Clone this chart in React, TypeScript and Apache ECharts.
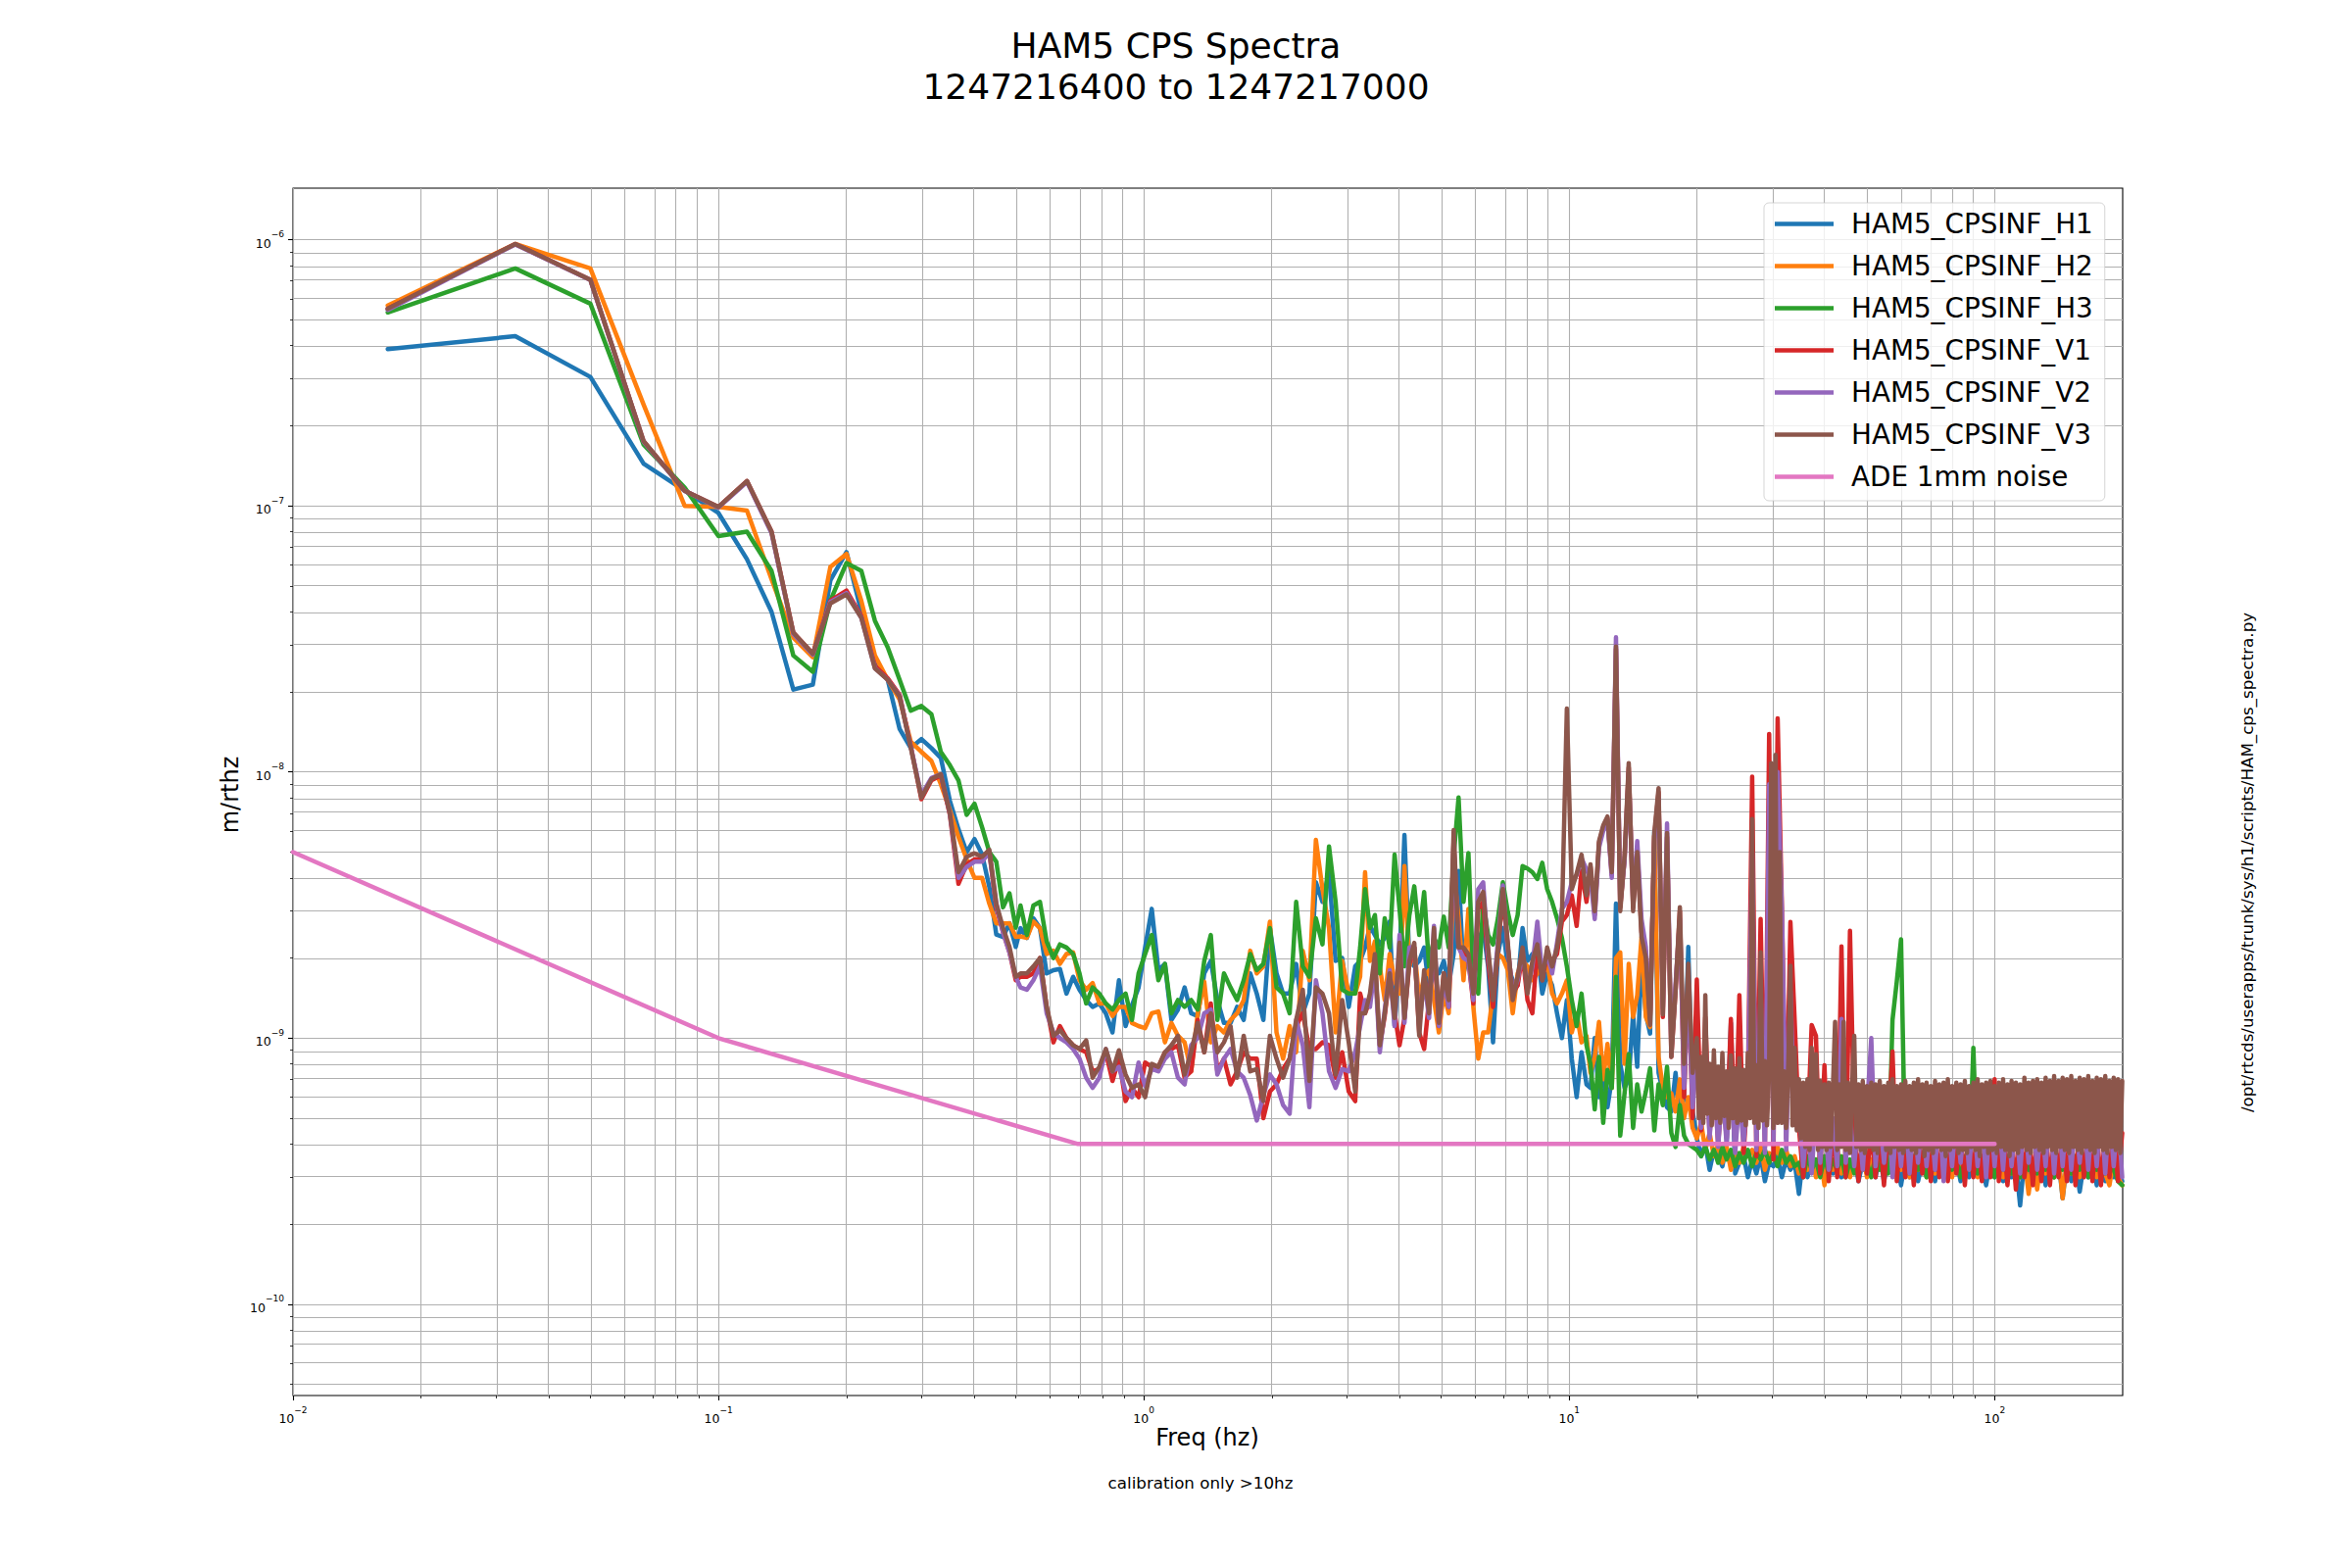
import React, { useEffect, useRef } from 'react';
import * as echarts from 'echarts';

// values are in units of 1e-10 m/rtHz
const UNIT = 1e-10;

const SERIES_NAMES = ['HAM5_CPSINF_H1', 'HAM5_CPSINF_H2', 'HAM5_CPSINF_H3', 'HAM5_CPSINF_V1', 'HAM5_CPSINF_V2', 'HAM5_CPSINF_V3', 'ADE 1mm noise'];
const COLORS = ['#1f77b4', '#ff7f0e', '#2ca02c', '#d62728', '#9467bd', '#8c564b', '#e377c2'];

// frequency grids (Hz)
const F_LF = [0.0167, 0.0333, 0.05, 0.0667, 0.0833, 0.1, 0.1167, 0.1333, 0.15, 0.1667, 0.1833, 0.2, 0.2167, 0.2333, 0.25, 0.2667, 0.2833, 0.3, 0.3167, 0.3333, 0.35, 0.3667, 0.3833, 0.4, 0.4167, 0.4333, 0.45, 0.4667, 0.4833, 0.5];
const F_MF1 = [0.513, 0.531, 0.550, 0.570, 0.591, 0.613, 0.635, 0.658, 0.682, 0.706, 0.732, 0.758, 0.786, 0.814, 0.844, 0.874, 0.906, 0.938, 0.972, 1.007, 1.044, 1.082, 1.121, 1.161, 1.203, 1.247, 1.292, 1.339, 1.387, 1.437, 1.489, 1.543, 1.599, 1.657, 1.717, 1.779, 1.843, 1.910, 1.979, 2.051, 2.125, 2.202, 2.281, 2.364, 2.450, 2.538, 2.630, 2.725, 2.824, 2.926, 3.032];
const F_MF2 = [3.140, 3.225, 3.312, 3.401, 3.493, 3.587, 3.684, 3.784, 3.886, 3.991, 4.099, 4.209, 4.323, 4.440, 4.560, 4.683, 4.809, 4.939, 5.072, 5.209, 5.350, 5.494, 5.643, 5.795, 5.951, 6.112, 6.277, 6.447, 6.621, 6.800, 6.983, 7.172, 7.365, 7.564, 7.768, 7.978, 8.193, 8.415, 8.642, 8.875, 9.115, 9.361, 9.614, 9.873, 10.14, 10.41, 10.69, 10.98];
const F_HF = [11.22, 11.48, 11.75, 12.02, 12.30, 12.59, 12.88, 13.18, 13.49, 13.80,
  14.13, 14.45, 14.79, 15.14, 15.49, 15.85, 16.22, 16.60, 16.98, 17.38,
  17.78, 18.20, 18.62, 19.05, 19.50, 19.95, 20.42, 20.89, 21.38, 21.88,
  22.39, 22.91, 23.44, 23.99, 24.55, 25.12, 25.70, 26.30, 26.92, 27.54,
  28.18, 28.84, 29.51, 30.20, 30.90, 31.62, 32.36, 33.11, 33.88, 34.67,
  35.48, 36.31, 37.15, 38.02, 38.90, 39.81, 40.74, 41.69, 42.66, 43.65,
  44.67, 45.71, 46.77, 47.86, 48.98, 50.12, 51.29, 52.48, 53.70, 54.95,
  56.23, 57.54, 58.88, 60.26, 61.66, 63.10, 64.57, 66.07, 67.61, 69.18,
  70.79, 72.44, 74.13, 75.86, 77.62, 79.43, 81.28, 83.18, 85.11, 87.10,
  89.13, 91.20, 93.33, 95.50, 97.72, 100.0, 102.3, 104.7, 107.2, 109.6,
  112.2, 114.8, 117.5, 120.2, 123.0, 125.9, 128.8, 131.8, 134.9, 138.0,
  141.3, 144.5, 147.9, 151.4, 154.9, 158.5, 162.2, 166.0, 169.8, 173.8,
  177.8, 182.0, 186.2, 190.5, 195.0, 199.5];
// finer grid used for the dense V3 band (20-200 Hz)
const F_FINE = [19.95, 20.18, 20.42, 20.66, 20.89, 21.13, 21.38, 21.63, 21.88, 22.13,
  22.39, 22.65, 22.91, 23.18, 23.44, 23.71, 23.99, 24.27, 24.55, 24.83,
  25.12, 25.41, 25.70, 26.00, 26.30, 26.61, 26.92, 27.23, 27.54, 27.86,
  28.18, 28.51, 28.84, 29.17, 29.51, 29.85, 30.20, 30.55, 30.90, 31.26,
  31.62, 31.99, 32.36, 32.74, 33.11, 33.49, 33.88, 34.27, 34.67, 35.07,
  35.48, 35.89, 36.31, 36.73, 37.15, 37.58, 38.02, 38.46, 38.90, 39.35,
  39.81, 40.27, 40.74, 41.21, 41.69, 42.17, 42.66, 43.15, 43.65, 44.16,
  44.67, 45.19, 45.71, 46.24, 46.77, 47.31, 47.86, 48.42, 48.98, 49.55,
  50.12, 50.70, 51.29, 51.89, 52.48, 53.09, 53.70, 54.32, 54.95, 55.59,
  56.23, 56.88, 57.54, 58.21, 58.88, 59.56, 60.26, 60.96, 61.66, 62.38,
  63.10, 63.83, 64.57, 65.32, 66.07, 66.84, 67.61, 68.39, 69.18, 69.98,
  70.79, 71.61, 72.44, 73.28, 74.13, 74.99, 75.86, 76.74, 77.62, 78.52,
  79.43, 80.35, 81.28, 82.22, 83.18, 84.14, 85.11, 86.10, 87.10, 88.11,
  89.13, 90.16, 91.20, 92.26, 93.33, 94.41, 95.50, 96.61, 97.72, 98.85,
  100.0, 101.2, 102.3, 103.5, 104.7, 105.9, 107.2, 108.4, 109.6, 110.9,
  112.2, 113.5, 114.8, 116.1, 117.5, 118.9, 120.2, 121.6, 123.0, 124.4,
  125.9, 127.4, 128.8, 130.3, 131.8, 133.3, 134.9, 136.5, 138.0, 139.6,
  141.3, 142.9, 144.5, 146.2, 147.9, 149.6, 151.4, 153.1, 154.9, 156.7,
  158.5, 160.3, 162.2, 164.1, 166.0, 167.9, 169.8, 171.8, 173.8, 175.8,
  177.8, 179.9, 182.0, 184.1, 186.2, 188.4, 190.5, 192.7, 195.0, 197.3,
  199.5];

// H1
const H1_LF = [3880, 4340, 3050, 1440, 1140, 940, 630, 400, 204, 213, 525, 670, 400, 263, 222, 145, 123, 133, 123, 113, 78, 61, 50, 56, 49, 37, 24.5, 24, 27, 22];
const H1_MF1 = [25.9, 23.8, 28.2, 25.9, 17.5, 18.0, 18.2, 14.7, 17.0, 15.2, 13.9, 13.1, 13.5, 12.4, 10.5, 16.5, 11.1, 13.3, 15.5, 21.9, 30.6, 18.0, 19.0, 11.7, 12.8, 15.5, 12.4, 12.1, 17.5, 19.5, 13.9, 11.4, 11.4, 13.1, 11.7, 17.5, 14.7, 11.7, 25.9, 17.5, 14.7, 14.7, 19.0, 12.4, 14.7, 38.5, 32.5, 42.0, 19.5, 20.0, 13.1];
const H1_MF2 = [18.6, 19.5, 21.9, 26.4, 24.4, 22.5, 23.8, 27.4, 11.1, 19.5, 58.0, 19.5, 18.6, 19.5, 21.9, 15.2, 17.5, 17.5, 19.5, 15.8, 20.7, 42.5, 17.5, 20.7, 14.7, 23.1, 25.9, 18.6, 9.64, 20.7, 25.9, 18.6, 16.5, 15.8, 25.9, 19.5, 20.7, 21.3, 14.7, 17.5, 15.8, 12.4, 10.0, 13.9, 8.37, 6.0, 8.85, 6.7];
const H1_HF = [6.5, 10.0, 6.0, 7.5, 5.5, 7.0, 32, 8.0, 6.5, 7.0,
  12.3, 7.8, 20, 12.3, 10.4, 60, 7.4, 6.3, 5.5, 5.3,
  7.4, 5.0, 6.0, 22, 5.3, 4.2, 3.6, 4.0, 3.2, 3.8,
  3.6, 3.3, 4.0, 11.4, 3.1, 3.4, 3.6, 3.0, 3.5, 3.1,
  3.6, 2.9, 3.4, 3.3, 3.6, 3.0, 3.5, 3.2, 3.4, 2.6,
  3.6, 3.0, 3.5, 3.1, 3.6, 2.9, 3.4, 3.1, 3.6, 3.0,
  3.4, 3.2, 3.6, 2.9, 3.4, 3.1, 3.5, 3.0, 3.6, 2.9,
  3.5, 3.1, 3.4, 2.8, 3.5, 3.0, 3.6, 2.9, 3.4, 3.1,
  3.5, 2.9, 3.6, 3.0, 3.4, 3.1, 3.5, 2.9, 3.4, 3.0,
  3.6, 3.1, 3.4, 2.8, 3.5, 3.0, 3.4, 2.9, 3.6, 3.0,
  3.4, 2.35, 3.5, 2.9, 3.4, 3.0, 3.5, 2.8, 3.4, 3.0,
  3.5, 2.5, 3.4, 2.9, 3.5, 2.65, 3.4, 3.0, 3.5, 2.8,
  3.4, 2.9, 3.5, 3.0, 3.3, 2.9];

// H2
const H2_LF = [5660, 9640, 7800, 2400, 1000, 990, 960, 530, 320, 270, 590, 660, 440, 274, 222, 187, 130, 119, 110, 90, 72, 57, 47, 40, 40, 32, 27, 27, 27, 24];
const H2_MF1 = [24.1, 23.8, 27.4, 25.9, 20.7, 21.3, 19.0, 20.7, 21.0, 16.5, 15.2, 16.1, 13.5, 13.5, 12.1, 13.1, 13.1, 11.4, 11.1, 10.9, 12.4, 12.6, 9.64, 11.4, 10.2, 9.64, 7.5, 12.4, 16.3, 9.64, 11.1, 10.5, 11.7, 12.4, 13.9, 21.3, 17.5, 18.6, 27.4, 10.5, 8.37, 11.1, 8.85, 21.3, 16.5, 55.6, 36.3, 25.9, 10.5, 19.5, 14.7];
const H2_MF2 = [14.7, 17.0, 42.0, 19.5, 23.1, 18.6, 13.9, 20.7, 16.5, 14.7, 44.3, 18.6, 21.9, 13.9, 17.0, 18.0, 13.9, 10.5, 14.7, 12.4, 42.5, 28.2, 16.5, 30.6, 13.1, 8.37, 10.5, 10.5, 14.7, 20.7, 20.0, 18.0, 12.4, 17.5, 19.5, 18.6, 16.5, 17.5, 18.6, 19.5, 14.7, 13.5, 14.7, 16.5, 10.5, 12.4, 9.64, 10.2];
const H2_HF = [7.4, 8.5, 11.5, 7.0, 9.5, 6.5, 20, 21, 8.0, 19,
  12.0, 14.5, 24, 12.0, 11.0, 58, 8.5, 6.5, 6.0, 6.2,
  5.3, 7.0, 5.0, 6.0, 4.6, 4.2, 4.8, 3.8, 4.4, 3.6,
  4.0, 3.4, 3.9, 3.2, 3.8, 3.4, 3.9, 3.6, 3.8, 3.4,
  3.9, 3.2, 3.7, 3.5, 3.9, 3.4, 3.8, 3.3, 3.6, 3.1,
  3.8, 3.2, 3.6, 3.0, 3.7, 2.8, 3.6, 3.2, 3.8, 3.1,
  3.5, 3.0, 3.6, 3.2, 3.7, 3.0, 3.5, 3.2, 3.8, 3.0,
  3.6, 3.1, 3.5, 3.2, 3.7, 3.0, 3.6, 3.2, 3.5, 3.0,
  3.7, 3.1, 3.6, 3.2, 3.5, 3.0, 3.7, 3.1, 3.6, 3.2,
  3.5, 3.0, 3.6, 3.1, 3.7, 3.2, 3.5, 3.0, 3.6, 3.1,
  3.5, 3.0, 3.6, 2.6, 3.5, 2.7, 3.6, 3.1, 3.5, 3.0,
  3.6, 2.5, 3.5, 3.1, 3.6, 3.0, 3.5, 3.1, 3.6, 3.0,
  3.5, 3.1, 2.8, 3.5, 3.0, 2.8];

// H3
const H3_LF = [5330, 7800, 5750, 1700, 1170, 770, 800, 570, 274, 238, 440, 610, 570, 370, 294, 222, 170, 177, 165, 119, 106, 93, 69, 76, 62, 50, 46, 31, 35, 26];
const H3_MF1 = [31.5, 24.4, 31.5, 32.5, 23.1, 20.0, 22.5, 21.9, 20.7, 17.5, 13.5, 15.5, 14.7, 13.5, 12.8, 13.9, 14.7, 11.7, 17.5, 20.7, 24.4, 16.5, 19.0, 12.4, 13.9, 13.1, 13.9, 12.8, 19.5, 24.4, 11.7, 17.5, 15.5, 13.9, 16.5, 20.7, 18.0, 19.0, 25.9, 15.5, 14.7, 12.4, 32.5, 18.6, 17.0, 28.2, 22.5, 52.5, 32.5, 15.2, 14.7];
const H3_MF2 = [14.7, 21.9, 36.3, 25.9, 29.0, 17.5, 28.2, 21.9, 48.9, 30.6, 18.6, 28.9, 37.2, 24.4, 35.4, 18.6, 23.8, 21.9, 28.6, 21.9, 48.0, 80.2, 32.5, 49.6, 17.0, 14.7, 32.5, 24.4, 22.5, 28.2, 38.5, 29.8, 24.4, 29.0, 44.3, 43.4, 42.0, 39.6, 45.6, 36.3, 32.5, 28.2, 23.8, 18.6, 13.9, 11.1, 14.7, 9.4];
const H3_HF = [8.0, 5.4, 8.5, 4.8, 7.6, 6.5, 17, 4.3, 6.2, 8.7,
  4.6, 6.7, 5.3, 6.3, 7.7, 4.5, 6.7, 5.6, 7.8, 4.4,
  3.9, 5.6, 4.3, 4.0, 3.9, 3.8, 3.6, 3.9, 3.5, 3.8,
  3.4, 3.9, 3.5, 3.8, 3.3, 3.7, 3.4, 3.8, 3.3, 3.7,
  3.5, 3.8, 3.4, 3.7, 3.3, 3.8, 3.4, 3.6, 3.3, 3.4,
  3.0, 3.6, 3.2, 3.5, 3.0, 3.6, 3.1, 3.5, 3.2, 3.6,
  3.0, 3.5, 3.1, 3.6, 3.2, 3.4, 3.0, 3.6, 3.2, 3.5,
  3.1, 11.7, 16.3, 23.5, 3.4, 3.1, 3.6, 3.2, 3.5, 3.0,
  3.6, 3.2, 3.4, 3.1, 3.6, 3.2, 3.5, 3.0, 3.6, 3.2,
  9.2, 3.1, 3.5, 3.2, 3.6, 3.0, 3.5, 3.2, 3.6, 3.1,
  3.4, 3.0, 3.6, 3.2, 3.5, 3.1, 3.6, 3.2, 3.4, 3.0,
  3.6, 3.2, 3.5, 3.1, 3.6, 3.2, 3.5, 3.0, 3.6, 3.2,
  3.4, 3.1, 3.5, 3.2, 2.9, 2.8];

// V1
const V1_LF = [5500, 9640, 7070, 1750, 1140, 990, 1240, 800, 334, 278, 440, 480, 385, 250, 225, 195, 125, 79, 93, 97, 69, 38, 45, 47, 47, 50, 31, 25, 21, 16.5];
const V1_MF1 = [17.0, 17.0, 17.5, 20.0, 13.1, 9.64, 11.1, 10.0, 9.4, 9.1, 8.85, 7.5, 7.65, 8.85, 6.9, 8.37, 5.8, 6.5, 6.0, 8.1, 7.8, 7.8, 8.85, 9.1, 9.4, 7.1, 7.5, 11.7, 8.85, 13.5, 7.5, 8.37, 6.7, 7.5, 8.85, 8.37, 8.37, 5.0, 6.3, 6.7, 7.65, 8.37, 11.1, 12.4, 9.1, 9.1, 9.64, 9.4, 7.1, 8.85, 6.3];
const V1_MF2 = [5.8, 14.7, 12.4, 13.9, 19.5, 9.4, 12.1, 17.5, 12.4, 9.4, 11.9, 19.0, 21.9, 10.5, 9.1, 13.9, 22.8, 11.1, 17.5, 13.1, 55.6, 21.9, 21.3, 19.5, 13.5, 30.6, 32.5, 19.5, 13.1, 21.9, 34.4, 21.9, 14.7, 15.8, 20.7, 13.9, 12.4, 21.9, 16.5, 20.7, 19.5, 20.7, 27.4, 29.0, 34.4, 26.4, 42.5, 32.5];
const V1_HF = [44, 29, 54, 62, 67, 41, 290, 31, 47, 104,
  31, 52, 25, 21, 12, 57, 84, 12, 57, 8.5,
  15, 30, 6.0, 17, 5.0, 16.6, 4.5, 12, 4.3, 7.5,
  4.0, 6.5, 4.2, 11.8, 3.8, 14.5, 3.7, 6.5, 96, 3.6,
  28, 3.9, 139, 3.5, 159, 31, 4.2, 27.3, 11.7, 4.6,
  3.0, 4.4, 11.2, 10.2, 3.1, 7.9, 2.9, 4.5, 3.0, 22.1,
  3.0, 25.3, 4.6, 2.9, 4.4, 3.1, 4.5, 3.0, 4.3, 2.8,
  4.6, 8.9, 2.9, 4.4, 3.0, 4.5, 2.8, 4.6, 3.1, 4.4,
  2.9, 4.5, 3.0, 4.3, 2.9, 4.6, 3.1, 4.4, 2.8, 4.5,
  3.0, 4.4, 2.9, 4.6, 3.0, 7.0, 2.9, 4.5, 2.8, 4.4,
  2.7, 4.6, 3.0, 4.4, 2.8, 4.5, 2.9, 4.6, 2.8, 4.3,
  3.0, 4.5, 2.9, 4.4, 2.8, 4.6, 3.0, 4.4, 2.9, 4.5,
  2.8, 4.4, 3.0, 4.5, 2.9, 4.4];

// V2
const V2_LF = [5450, 9600, 7050, 1740, 1140, 985, 1230, 790, 330, 276, 435, 470, 380, 246, 222, 193, 124, 82, 95, 98, 70, 40, 44, 46, 46, 50, 32, 25, 21, 17];
const V2_MF1 = [15.5, 15.2, 16.5, 18.6, 12.4, 10.5, 10.0, 9.64, 9.1, 8.37, 7.1, 6.5, 7.1, 9.1, 7.5, 7.8, 6.3, 6.0, 8.1, 6.6, 7.65, 7.5, 8.37, 8.85, 7.1, 6.7, 9.4, 10.0, 12.4, 12.8, 7.3, 8.37, 9.1, 7.5, 7.1, 6.1, 4.9, 6.1, 7.3, 6.7, 5.6, 5.2, 11.7, 9.4, 5.5, 16.5, 12.4, 7.5, 6.5, 7.65, 7.5];
const V2_MF2 = [8.85, 11.1, 13.9, 13.1, 18.6, 8.85, 12.8, 18.0, 11.1, 24.4, 11.4, 21.9, 21.9, 11.1, 16.5, 11.9, 26.4, 11.1, 16.5, 13.1, 54.0, 21.9, 20.0, 19.5, 13.9, 36.3, 38.5, 20.7, 14.7, 23.1, 37.5, 21.9, 14.7, 16.5, 21.3, 15.2, 18.6, 27.4, 17.5, 20.7, 17.5, 22.8, 30.6, 32.5, 38.5, 41.0, 47.5, 43.0];
const V2_HF = [40, 28, 52, 60, 66, 40, 321, 32, 46, 100,
  32, 55, 28, 22, 12, 55, 80, 13, 64, 9,
  16, 28, 6.5, 16, 5.5, 8.5, 4.6, 10, 4.2, 7.5,
  3.9, 6.5, 4.0, 7.0, 3.7, 6.0, 4.0, 6.5, 50, 3.8,
  15, 3.7, 90, 4.0, 100, 30, 3.8, 15, 4.8, 5.5,
  3.3, 5.0, 3.1, 5.5, 3.4, 5.2, 3.2, 5.0, 3.3, 11.8,
  3.4, 5.2, 3.3, 5.0, 3.2, 5.4, 10.0, 3.3, 5.1, 3.4,
  5.2, 3.0, 5.0, 3.3, 5.3, 3.1, 5.0, 3.4, 5.2, 3.3,
  5.1, 3.2, 5.3, 2.9, 5.0, 3.3, 5.2, 3.4, 5.1, 3.2,
  5.3, 3.3, 5.0, 3.0, 5.2, 3.3, 5.1, 3.2, 5.4, 3.3,
  5.0, 3.1, 5.3, 3.4, 5.2, 3.2, 5.0, 3.3, 5.3, 3.1,
  5.2, 3.3, 5.4, 3.2, 5.1, 3.4, 5.3, 3.2, 5.2, 3.3,
  5.5, 3.1, 5.3, 3.3, 5.2, 3.0];

// V3 (11-19.5 Hz on F_HF, then 20-200 Hz on F_FINE)
const V3_LF = [5500, 9640, 7070, 1750, 1140, 990, 1240, 800, 334, 278, 430, 465, 380, 245, 222, 192, 123, 80, 94, 98, 70, 42, 48, 49.5, 48, 51, 32, 26, 22, 17];
const V3_MF1 = [17.5, 17.5, 18.6, 20.0, 13.1, 10.2, 10.7, 10.0, 9.4, 9.1, 9.8, 7.1, 7.8, 9.1, 7.5, 9.0, 7.3, 6.5, 6.7, 6.0, 8.0, 7.8, 8.85, 9.4, 10.2, 7.3, 8.85, 11.4, 8.85, 12.4, 8.85, 9.64, 11.1, 7.1, 10.2, 7.5, 7.65, 5.8, 10.2, 8.37, 7.1, 8.37, 11.7, 15.2, 6.9, 15.5, 14.7, 12.4, 7.3, 13.9, 9.64];
const V3_MF2 = [6.3, 12.4, 12.4, 14.7, 20.7, 9.4, 12.4, 17.5, 11.9, 22.8, 11.9, 19.5, 22.8, 10.2, 18.0, 12.4, 25.9, 11.4, 17.5, 13.9, 60.5, 21.9, 21.9, 20.7, 14.7, 32.5, 35.4, 21.9, 13.9, 21.9, 36.3, 22.8, 13.9, 17.0, 21.9, 14.7, 19.5, 22.5, 16.5, 21.9, 18.6, 21.9, 29.0, 173, 36.3, 41.5, 48.9, 34.4];
const V3_HF = [45, 30, 55, 63, 68, 42, 296, 30, 48, 108,
  30, 50, 24, 20, 11.2, 59, 87, 12.3, 59, 8.5,
  15, 31, 8.0, 19, 7.4];
const V3_FINE = [10, 5.0, 8.5, 4.8, 14.5, 5.2, 8.0, 4.7, 9.0, 5.0,
  7.8, 4.8, 8.8, 5.1, 7.5, 4.6, 8.6, 5.0, 7.7, 4.8,
  8.4, 4.9, 7.6, 4.7, 8.8, 5.0, 66.5, 4.8, 7.9, 4.6,
  21, 4.9, 8.2, 4.7, 7.6, 108, 4.6, 116, 4.8, 50,
  4.8, 7.5, 4.6, 8.0, 18.7, 4.7, 9.2, 4.5, 7.0, 4.2,
  6.8, 3.9, 7.0, 3.8, 9.2, 4.0, 8.7, 3.8, 6.9, 3.9,
  6.7, 3.8, 6.8, 3.9, 6.6, 11.5, 3.8, 6.7, 3.9, 11.5,
  3.8, 6.8, 3.7, 6.6, 10.2, 3.9, 6.7, 3.8, 6.9, 3.7,
  6.6, 3.9, 6.8, 3.8, 6.7, 3.7, 6.9, 4.0, 6.6, 3.8,
  6.8, 3.7, 7.0, 3.9, 6.6, 3.8, 6.7, 3.7, 6.9, 3.9,
  6.6, 3.8, 6.8, 3.7, 7.0, 3.9, 6.7, 3.6, 6.8, 3.8,
  6.6, 3.7, 6.9, 3.9, 6.7, 3.8, 6.8, 3.6, 7.0, 3.8,
  6.6, 3.9, 6.8, 3.7, 6.7, 3.8, 6.9, 3.7, 6.6, 3.9,
  6.8, 3.8, 7.0, 3.6, 6.7, 3.9, 6.8, 3.7, 6.9, 3.8,
  6.6, 3.7, 6.8, 3.9, 7.0, 3.8, 6.7, 3.6, 6.9, 3.8,
  6.8, 3.7, 6.7, 3.9, 7.1, 3.8, 6.8, 3.7, 6.9, 3.9,
  7.0, 3.8, 6.8, 3.7, 7.1, 3.9, 6.9, 3.8, 7.2, 3.7,
  6.9, 3.9, 7.1, 3.8, 7.0, 3.7, 7.2, 3.9, 6.9, 3.8,
  7.1, 3.7, 7.0, 3.9, 7.2, 3.8, 6.9, 3.7, 7.1, 3.9,
  7.0, 3.8, 7.2, 3.7, 6.9, 3.9, 7.1, 3.8, 7.0, 3.7,
  6.9];

// ADE 1mm noise
const F_ADE = [0.01, 0.1, 0.7, 100];
const V_ADE = [50, 10, 4, 4];

// axes (decade exponents)
const X_TICKS = [-2, -1, 0, 1, 2];
const Y_TICKS = [-10, -9, -8, -7, -6];
const X_RANGE = [0.01, 200];
const Y_RANGE = [4.54e-11, 1.562e-6];
const MINOR_MULT = [2, 3, 4, 5, 6, 7, 8, 9];

const FONT = 'DejaVu Sans';

function pts(fs: number[], vs: number[]) {
  return vs.map((v, i) => [Math.log10(fs[i]), Math.log10(v * UNIT)]);
}

function buildOption() {
  const xMin = Math.log10(X_RANGE[0]);
  const xMax = Math.log10(X_RANGE[1]);
  const yMin = Math.log10(Y_RANGE[0]);
  const yMax = Math.log10(Y_RANGE[1]);

  const xMinor: number[] = [];
  for (let n = -2; n <= 2; n++) MINOR_MULT.forEach((k) => { const v = n + Math.log10(k); if (v > xMin + 1e-6 && v < xMax - 1e-6) xMinor.push(v); });
  const yMinor: number[] = [];
  for (let n = -11; n <= -6; n++) MINOR_MULT.forEach((k) => { const v = n + Math.log10(k); if (v > yMin && v < yMax) yMinor.push(v); });

  const dataSets = [
    [...pts(F_LF, H1_LF), ...pts(F_MF1, H1_MF1), ...pts(F_MF2, H1_MF2), ...pts(F_HF, H1_HF)],
    [...pts(F_LF, H2_LF), ...pts(F_MF1, H2_MF1), ...pts(F_MF2, H2_MF2), ...pts(F_HF, H2_HF)],
    [...pts(F_LF, H3_LF), ...pts(F_MF1, H3_MF1), ...pts(F_MF2, H3_MF2), ...pts(F_HF, H3_HF)],
    [...pts(F_LF, V1_LF), ...pts(F_MF1, V1_MF1), ...pts(F_MF2, V1_MF2), ...pts(F_HF, V1_HF)],
    [...pts(F_LF, V2_LF), ...pts(F_MF1, V2_MF1), ...pts(F_MF2, V2_MF2), ...pts(F_HF, V2_HF)],
    [...pts(F_LF, V3_LF), ...pts(F_MF1, V3_MF1), ...pts(F_MF2, V3_MF2), ...pts(F_HF, V3_HF), ...pts(F_FINE, V3_FINE)],
    pts(F_ADE, V_ADE),
  ];

  const labelFmt = (v: number) => {
    const e = Math.round(v);
    const s = e < 0 ? '\u2212' + String(-e) : String(e);
    return '{b|10}{s|' + s + '}';
  };
  const rich = {
    b: { fontSize: 12.5, fontFamily: FONT, color: '#000', verticalAlign: 'bottom', lineHeight: 20 },
    s: { fontSize: 9, fontFamily: FONT, color: '#000', verticalAlign: 'top', lineHeight: 10 },
  };

  const gridSeries = {
    name: '_grid',
    type: 'line',
    data: [],
    silent: true,
    markLine: {
      silent: true,
      z: 1,
      animation: false,
      symbol: ['none', 'none'],
      label: { show: false },
      emphasis: { disabled: true },
      lineStyle: { color: '#b0b0b0', width: 1.1, type: 'solid' },
      data: [
        ...X_TICKS.concat(xMinor).map((v) => ({ xAxis: v })),
        ...Y_TICKS.concat(yMinor).map((v) => ({ yAxis: v })),
      ],
    },
  };

  const lineSeries = SERIES_NAMES.map((name, i) => ({
    name,
    type: 'line',
    data: dataSets[i],
    showSymbol: false,
    symbol: 'none',
    silent: true,
    z: 3,
    clip: true,
    color: COLORS[i],
    itemStyle: { color: COLORS[i] },
    lineStyle: { color: COLORS[i], width: 4.5, join: 'round', cap: 'round' },
    emphasis: { disabled: true },
  }));

  const text = (t: string, x: number, y: number, size: number, rot = 0) => ({
    type: 'text',
    x,
    y,
    rotation: rot,
    silent: true,
    style: {
      text: t,
      fontSize: size,
      fontFamily: FONT,
      fill: '#000',
      align: 'center',
      verticalAlign: 'middle',
      textAlign: 'center',
      textVerticalAlign: 'middle',
    },
  });

  const axisLineOff = { show: false, onZero: false };

  return {
    animation: false,
    backgroundColor: '#ffffff',
    title: {
      text: 'HAM5 CPS Spectra\n1247216400 to 1247217000',
      left: 'center',
      top: 25,
      padding: 0,
      textStyle: { fontSize: 36, fontWeight: 'normal', fontFamily: FONT, color: '#000', lineHeight: 42 },
    },
    legend: {
      orient: 'vertical',
      left: 1800,
      top: 207,
      padding: [5, 12, 8, 11],
      itemWidth: 60,
      itemHeight: 4.5,
      itemGap: 10,
      icon: 'rect',
      selectedMode: false,
      data: SERIES_NAMES,
      backgroundColor: 'rgba(255,255,255,0.8)',
      borderColor: 'rgba(204,204,204,0.8)',
      borderWidth: 1,
      borderRadius: 5,
      textStyle: { fontSize: 27.8, fontFamily: FONT, color: '#000', lineHeight: 33, padding: [0, 0, 0, 13] },
    },
    grid: { left: 299, right: 234, top: 192, bottom: 176, show: true, borderColor: '#000', borderWidth: 1.1, backgroundColor: 'transparent' },
    xAxis: [
      {
        type: 'value', min: xMin, max: xMax, position: 'bottom',
        axisLine: axisLineOff,
        splitLine: { show: false },
        axisTick: { show: true, length: 5, customValues: X_TICKS, lineStyle: { color: '#000', width: 1.1 } },
        axisLabel: { show: true, customValues: X_TICKS, margin: 10, formatter: labelFmt, rich },
      },
      {
        type: 'value', min: xMin, max: xMax, position: 'bottom',
        axisLine: axisLineOff,
        splitLine: { show: false },
        axisLabel: { show: false },
        axisTick: { show: true, length: 3, customValues: xMinor, lineStyle: { color: '#000', width: 0.8 } },
      },
    ],
    yAxis: [
      {
        type: 'value', min: yMin, max: yMax, position: 'left',
        axisLine: axisLineOff,
        splitLine: { show: false },
        axisTick: { show: true, length: 5, customValues: Y_TICKS, lineStyle: { color: '#000', width: 1.1 } },
        axisLabel: { show: true, customValues: Y_TICKS, margin: 9, formatter: labelFmt, rich },
      },
      {
        type: 'value', min: yMin, max: yMax, position: 'left',
        axisLine: axisLineOff,
        splitLine: { show: false },
        axisLabel: { show: false },
        axisTick: { show: true, length: 3, customValues: yMinor, lineStyle: { color: '#000', width: 0.8 } },
      },
    ],
    series: [gridSeries, ...lineSeries],
    graphic: [
      text('Freq (hz)', 1232, 1467, 24),
      text('m/rthz', 235, 811, 24, Math.PI / 2),
      text('calibration only >10hz', 1225, 1513, 16.7),
      text('/opt/rtcds/userapps/trunk/sys/h1/scripts/HAM_cps_spectra.py', 2293, 880, 16.7, Math.PI / 2),
    ],
  };
}

export default function App() {
  const ref = useRef<HTMLDivElement>(null);
  useEffect(() => {
    if (!ref.current) return;
    const chart = echarts.init(ref.current, undefined, { renderer: 'svg' });
    chart.setOption(buildOption() as any);
    return () => chart.dispose();
  }, []);
  return <div ref={ref} style={{ position: 'absolute', left: 0, top: 0, width: 2400, height: 1600, background: '#fff' }} />;
}
